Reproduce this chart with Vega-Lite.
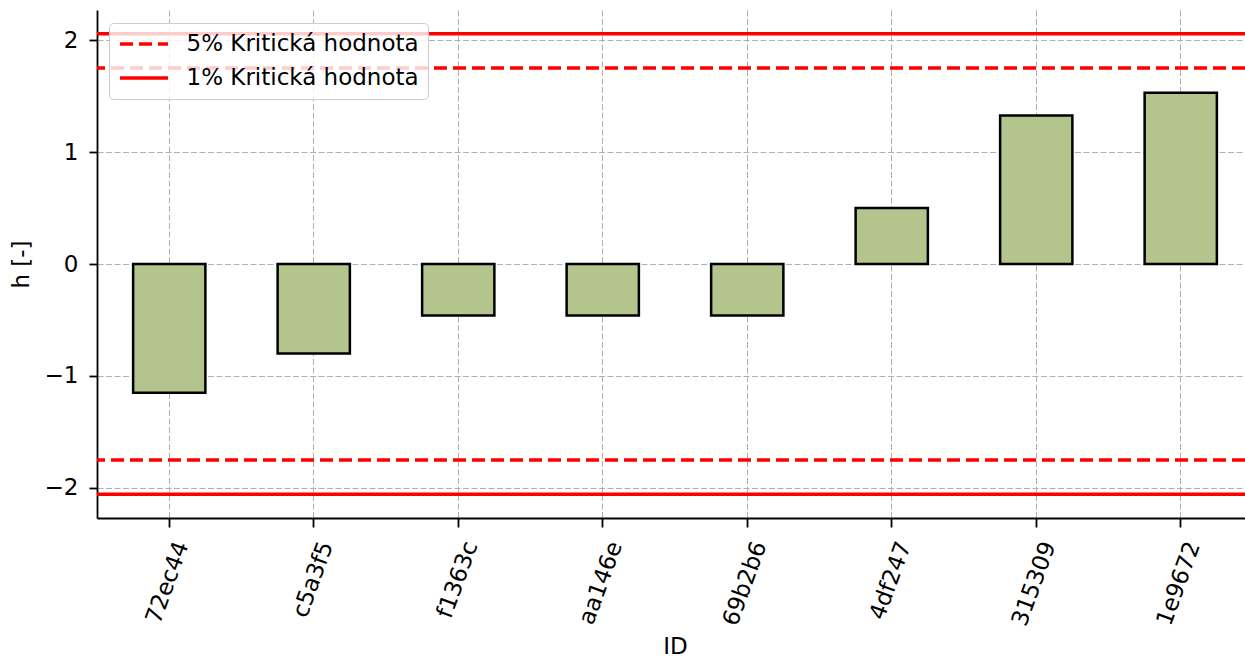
{
  "$schema": "https://vega.github.io/schema/vega-lite/v6.json",
  "autosize": "none",
  "width": 1148,
  "height": 508,
  "padding": {"left": 97, "top": 10, "right": 0, "bottom": 141},
  "background": "white",
  "config": {
    "font": "DejaVu Sans",
    "view": {"stroke": null},
    "axis": {
      "labelFont": "DejaVu Sans", "titleFont": "DejaVu Sans",
      "labelFontSize": 23, "titleFontSize": 23, "titleFontWeight": "normal",
      "labelColor": "black", "titleColor": "black",
      "domainColor": "black", "domainWidth": 1.8,
      "tickColor": "black", "tickWidth": 1.8,
      "gridColor": "#b0b0b0", "gridWidth": 1, "gridDash": [6, 2.5]
    },
    "legend": {"labelFont": "DejaVu Sans"}
  },
  "datasets": {
    "bars": [
      {"ID": "72ec44", "h": -1.15},
      {"ID": "c5a3f5", "h": -0.80},
      {"ID": "f1363c", "h": -0.46},
      {"ID": "aa146e", "h": -0.46},
      {"ID": "69b2b6", "h": -0.46},
      {"ID": "4df247", "h": 0.50},
      {"ID": "315309", "h": 1.325},
      {"ID": "1e9672", "h": 1.53}
    ],
    "crit": [
      {"label": "5% Kritická hodnota", "v": 1.75},
      {"label": "5% Kritická hodnota", "v": -1.75},
      {"label": "1% Kritická hodnota", "v": 2.055},
      {"label": "1% Kritická hodnota", "v": -2.055}
    ]
  },
  "layer": [
    {
      "data": {"name": "bars"},
      "mark": {"type": "bar", "fill": "#b3c58d", "stroke": "black", "strokeWidth": 2.5},
      "encoding": {
        "x": {
          "field": "ID", "type": "nominal", "sort": null, "title": "ID",
          "scale": {"range": [0, 1156], "paddingInner": 0.5, "paddingOuter": 0.25},
          "axis": {
            "labelAngle": -70, "labelAlign": "right", "labelBaseline": "middle",
            "labelOffset": 13, "labelPadding": 15, "tickSize": 9,
            "titleY": 135, "titleBaseline": "alphabetic", "grid": true
          }
        },
        "y": {
          "field": "h", "type": "quantitative", "title": "h [-]",
          "scale": {"domain": [-2.268, 2.268], "nice": false, "zero": false},
          "axis": {
            "values": [-2, -1, 0, 1, 2],
            "labelExpr": "datum.value < 0 ? '\u2212' + format(-datum.value, 'd') : format(datum.value, 'd')",
            "tickSize": 8, "labelPadding": 11,
            "titlePadding": 11, "grid": true
          }
        }
      }
    },
    {
      "mark": {"type": "rule", "stroke": "black", "strokeWidth": 1, "strokeDash": [1.6, 2.6]},
      "encoding": {"y": {"datum": 0}}
    },
    {
      "mark": {"type": "rule", "stroke": "black", "strokeWidth": 1.8},
      "encoding": {"y": {"datum": 2.268}}
    },
    {
      "data": {"name": "crit"},
      "mark": {"type": "rule", "stroke": "red", "strokeWidth": 3.5},
      "encoding": {
        "y": {"field": "v", "type": "quantitative"},
        "strokeDash": {
          "field": "label", "type": "nominal",
          "scale": {"domain": ["5% Kritická hodnota", "1% Kritická hodnota"], "range": [[13, 6], [1, 0]]},
          "legend": {
            "title": null, "orient": "none", "legendX": 12, "legendY": 13,
            "symbolType": "M-1,0L3.8,0", "symbolSize": 400, "symbolStrokeWidth": 3.5,
            "symbolStrokeColor": "red", "symbolFillColor": "transparent",
            "labelFontSize": 23, "labelColor": "black", "labelOffset": 44.5, "labelLimit": 0,
            "fillColor": "rgba(255,255,255,0.8)", "strokeColor": "#cccccc",
            "cornerRadius": 4, "padding": 9, "rowPadding": 10
          }
        }
      }
    }
  ]
}
